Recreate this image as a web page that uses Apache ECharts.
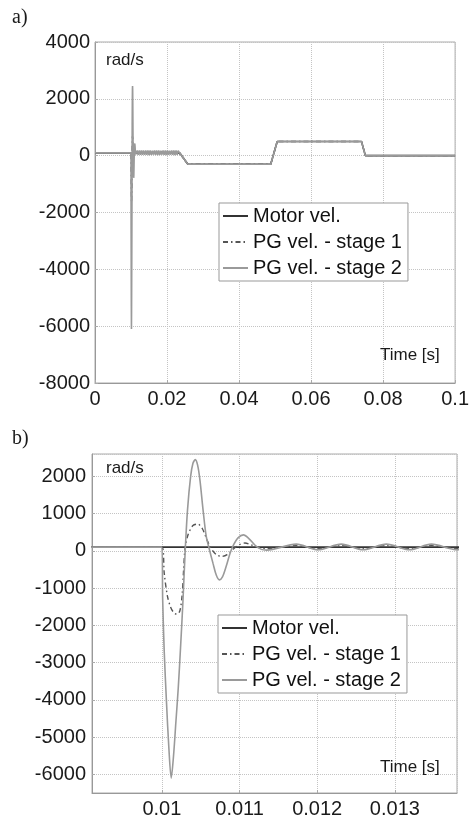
<!DOCTYPE html>
<html>
<head>
<meta charset="utf-8">
<script src="https://cdn.jsdelivr.net/npm/echarts@6/dist/echarts.min.js"></script>
<style>
html,body{margin:0;padding:0;background:#fff;}
#c{width:472px;height:819px;}
</style>
</head>
<body>
<div id="c"></div>
<script>
// ---- data ----
var seriesNames = ['Motor vel.', 'PG vel. - stage 1', 'PG vel. - stage 2'];

// motor velocity before the first profile step
var motorT = [0, 0.0235];
var motorV = [100, 100];

// PG stage 1 transient around the impact at t = 0.01 s
var stage1T = [0, 0.01000, 0.01003, 0.01007, 0.01011, 0.01015, 0.01019, 0.01023, 0.01026, 0.01028,
  0.01030, 0.01034, 0.01040, 0.01046, 0.01052, 0.01058, 0.01063, 0.01070, 0.01077, 0.01084,
  0.01092, 0.01100, 0.01107, 0.01114, 0.01122, 0.01135, 0.01173, 0.01201, 0.01231, 0.01259,
  0.01289, 0.01319, 0.01347, 0.01380];
var stage1V = [100, 100, -600, -1200, -1500, -1650, -1700, -1620, -1200, -500,
  100, 450, 680, 720, 600, 300, 80, -100, -150, -100,
  50, 170, 210, 170, 100, 60, 140, 60, 140, 60,
  140, 60, 140, 60];

// PG stage 2 transient around the impact at t = 0.01 s
var stage2T = [0, 0.01000, 0.01001, 0.01003, 0.01006, 0.01009, 0.01012, 0.01015, 0.01018, 0.01021,
  0.01024, 0.01027, 0.01030, 0.01033, 0.01037, 0.01040, 0.01043, 0.01046, 0.01049, 0.01053,
  0.01057, 0.01061, 0.01066, 0.01070, 0.01074, 0.01078, 0.01083, 0.01088, 0.01092, 0.01098,
  0.01105, 0.01112, 0.01120, 0.01128, 0.01135, 0.01173, 0.01201, 0.01231, 0.01259, 0.01289,
  0.01319, 0.01347, 0.01380];
var stage2V = [100, 100, -1300, -2700, -4100, -5300, -6100, -5500, -4600, -3700,
  -2600, -1400, 0, 1100, 2000, 2350, 2450, 2300, 1900, 1100,
  400, 50, -350, -650, -780, -700, -400, -50, 150, 350,
  430, 330, 150, 40, 20, 180, 30, 180, 30, 180,
  30, 180, 30];

// residual ripple of the gear stages until the first velocity step
var rippleT = [0.0141, 0.0144, 0.0147, 0.0150, 0.0153, 0.0156, 0.0159, 0.0162, 0.0165, 0.0168,
  0.0171, 0.0174, 0.0177, 0.0180, 0.0183, 0.0186, 0.0189, 0.0192, 0.0195, 0.0198,
  0.0201, 0.0204, 0.0207, 0.0210, 0.0213, 0.0216, 0.0219, 0.0222, 0.0225, 0.0228, 0.0231];
var stage1Ripple = [140, 60, 145, 55, 140, 60, 135, 65, 140, 60,
  145, 55, 140, 60, 135, 65, 140, 60, 145, 55,
  140, 60, 135, 65, 140, 60, 145, 55, 140, 60, 135];
var stage2Ripple = [180, 30, 185, 25, 180, 30, 175, 35, 180, 30,
  185, 25, 180, 30, 175, 35, 180, 30, 185, 25,
  180, 30, 175, 35, 180, 30, 185, 25, 180, 30, 175];

// common velocity profile (all three velocities overlap)
var profileT = [0.0235, 0.0258, 0.0488, 0.0506, 0.0740, 0.0751, 0.1000];
var profileV = [100, -300, -300, 500, 500, 0, 0];

// axis ticks
var xTicksA = [0, 0.1, 0.02];      // min, max, interval
var yTicksA = [-8000, 4000, 2000];
var xRangeB = [0.0091, 0.0138];
var yRangeB = [-6500, 2600];

// ---- build series data ----
function pairs(t, v) { return t.map(function (x, i) { return [x, v[i]]; }); }
var motorData = pairs(motorT, motorV).concat(pairs(profileT, profileV).slice(1));
var stage1Data = pairs(stage1T, stage1V).concat(pairs(rippleT, stage1Ripple), pairs(profileT, profileV));
var stage2Data = pairs(stage2T, stage2V).concat(pairs(rippleT, stage2Ripple), pairs(profileT, profileV));

var styles = [
  { color: '#333333', width: 1.6, type: 'solid' },
  { color: '#555555', width: 1.4, type: [5, 3, 1.5, 3] },
  { color: '#9a9a9a', width: 1.6, type: 'solid' }
];
var datas = [motorData, stage1Data, stage2Data];

var series = [];
[0, 1].forEach(function (g) {
  for (var i = 0; i < 3; i++) {
    series.push({
      name: seriesNames[i],
      type: 'line',
      xAxisIndex: g,
      yAxisIndex: g,
      data: datas[i],
      symbol: 'none',
      showSymbol: false,
      smooth: g === 1 ? 0.3 : false,
      sampling: null,
      animation: false,
      itemStyle: { color: styles[i].color },
      lineStyle: { color: styles[i].color, width: styles[i].width, type: styles[i].type },
      z: 2 + i
    });
  }
});

var font = '"Liberation Sans", Arial, sans-serif';
function plain(v) { return String(Math.round(v * 1e6) / 1e6); }
var labelStyle = { fontFamily: font, fontSize: 20, color: '#1a1a1a', formatter: plain };
var splitStyle = { show: true, lineStyle: { color: '#c4c4c4', type: 'dotted', width: 1 } };
var axisLine = { show: true, onZero: false, lineStyle: { color: '#999', width: 1 } };
var axisTick = { show: true, inside: true, length: 3, lineStyle: { color: '#aaa' } };

function legend(left, top) {
  return {
    orient: 'vertical', left: left, top: top,
    data: seriesNames,
    itemWidth: 25, itemHeight: 14, itemGap: 6,
    padding: [3, 6, 3, 3],
    backgroundColor: '#fff', borderColor: '#999', borderWidth: 1,
    selectedMode: false,
    itemStyle: { opacity: 0, borderWidth: 0 },
    textStyle: { fontFamily: font, fontSize: 20, color: '#111' }
  };
}

function txt(text, x, y, f) {
  return { type: 'text', left: x, top: y, z: 100, silent: true,
    style: { text: text, font: f, fill: '#1a1a1a' } };
}

var option = {
  backgroundColor: '#fff',
  animation: false,
  grid: [
    { left: 95, top: 42, width: 362, height: 341, show: true, borderColor: '#aaa', borderWidth: 1, backgroundColor: 'transparent' },
    { left: 92, top: 454, width: 365, height: 340, show: true, borderColor: '#aaa', borderWidth: 1, backgroundColor: 'transparent' }
  ],
  xAxis: [
    { type: 'value', gridIndex: 0, min: xTicksA[0], max: xTicksA[1], interval: xTicksA[2],
      axisLine: axisLine, axisTick: axisTick, splitLine: splitStyle,
      axisLabel: Object.assign({ margin: 6 }, labelStyle) },
    { type: 'value', gridIndex: 1, min: xRangeB[0], max: xRangeB[1], splitNumber: 5,
      axisLine: axisLine, axisTick: axisTick, splitLine: splitStyle,
      axisLabel: Object.assign({ margin: 6, showMinLabel: false, showMaxLabel: false }, labelStyle) }
  ],
  yAxis: [
    { type: 'value', gridIndex: 0, min: yTicksA[0], max: yTicksA[1], interval: yTicksA[2],
      axisLine: axisLine, axisTick: axisTick, splitLine: splitStyle,
      axisLabel: Object.assign({ margin: 5 }, labelStyle) },
    { type: 'value', gridIndex: 1, min: yRangeB[0], max: yRangeB[1], splitNumber: 9,
      axisLine: axisLine, axisTick: axisTick, splitLine: splitStyle,
      axisLabel: Object.assign({ margin: 6, showMinLabel: false, showMaxLabel: false }, labelStyle) }
  ],
  legend: [legend(219, 203), legend(218, 615)],
  graphic: [
    txt('a)', 12, 8, '20px "Liberation Serif", "DejaVu Serif", serif'),
    txt('b)', 12, 429, '20px "Liberation Serif", "DejaVu Serif", serif'),
    txt('rad/s', 106, 52, '17px ' + font),
    txt('rad/s', 106, 460, '17px ' + font),
    txt('Time [s]', 380, 347, '17px ' + font),
    txt('Time [s]', 380, 759, '17px ' + font)
  ],
  series: series
};

var chart = echarts.init(document.getElementById('c'), null, { renderer: 'canvas' });
chart.setOption(option);
</script>
</body>
</html>
